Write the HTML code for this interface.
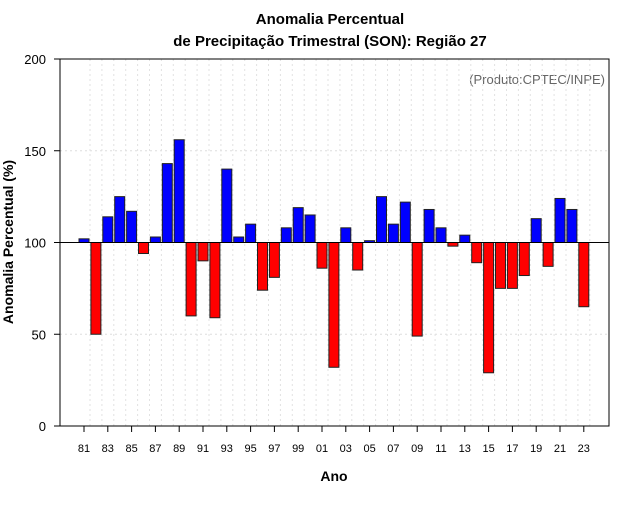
<!DOCTYPE html>
<html><head><meta charset="utf-8"><style>
body{margin:0;background:#fff;}
svg text{font-family:"Liberation Sans",sans-serif;}
</style></head><body>
<svg id="chart" width="640" height="500" xmlns="http://www.w3.org/2000/svg">
<text x="330" y="24" text-anchor="middle" font-size="15" font-weight="bold">Anomalia Percentual</text>
<text x="330" y="46" text-anchor="middle" font-size="15" font-weight="bold">de Precipitação Trimestral (SON): Região 27</text>
<text x="605" y="84" text-anchor="end" font-size="13" fill="#666">(Produto:CPTEC/INPE)</text>
<text transform="translate(13,242) rotate(-90)" text-anchor="middle" font-size="14" font-weight="bold">Anomalia Percentual (%)</text>
<text x="334" y="481" text-anchor="middle" font-size="14" font-weight="bold">Ano</text>
<g id="grid"></g><g id="bars"></g><g id="axes"></g>
<rect x="60" y="59" width="549" height="367" fill="none" stroke="#000" stroke-width="1"/>
</svg>
<script>
const years=[81,82,83,84,85,86,87,88,89,90,91,92,93,94,95,96,97,98,99,0,1,2,3,4,5,6,7,8,9,10,11,12,13,14,15,16,17,18,19,20,21,22,23];
const values=[102,50,114,125,117,94,103,143,156,60,90,59,140,103,110,74,81,108,119,115,86,32,108,85,101,125,110,122,49,118,108,98,104,89,29,75,75,82,113,87,124,118,65];
const yTicks=[0,50,100,150,200];
const NS="http://www.w3.org/2000/svg";
const y=v=>426-v*367/200;
const x=i=>84+i*11.9;
const grid=document.getElementById('grid'),bars=document.getElementById('bars'),axes=document.getElementById('axes');
function mk(tag,attrs,parent){const e=document.createElementNS(NS,tag);for(const k in attrs)e.setAttribute(k,attrs[k]);parent.appendChild(e);return e;}
yTicks.forEach(t=>{
  if(t>0&&t<200){const g=mk('line',{x1:60,x2:609,y1:y(t),y2:y(t),stroke:'#ddd','stroke-dasharray':'2,3'},grid);
  
  }
  const tk=mk('line',{x1:54,x2:60,y1:y(t),y2:y(t),stroke:'#000'},axes);
  
  
  const l=mk('text',{x:46,y:y(t)+5,'text-anchor':'end','font-size':13},axes);
  l.textContent=t;
  
  
});
years.forEach((yr,i)=>{
  const g=mk('line',{x1:x(i)+6,x2:x(i)+6,y1:59,y2:426,stroke:'#e2e2e2','stroke-dasharray':'2,3'},grid);
  
  
  const v=values[i];
  const top=Math.min(y(v),y(100)),h=Math.abs(y(v)-y(100));
  const b=mk('rect',{x:x(i)-5,y:top,width:10,height:Math.max(h,1),fill:v>=100?'#0000ff':'#ff0000',stroke:'#222','stroke-width':1},bars);
  
  
  if(i%2===0){
    const tk=mk('line',{x1:x(i),x2:x(i),y1:426,y2:432,stroke:'#000'},axes);
    
    
    const l=mk('text',{x:x(i),y:452,'text-anchor':'middle','font-size':11},axes);
    l.textContent=String(yr).padStart(2,'0');
    
    
  }
});
const bl=mk('line',{x1:60,x2:609,y1:y(100),y2:y(100),stroke:'#000'},axes);


</script>
</body></html>
